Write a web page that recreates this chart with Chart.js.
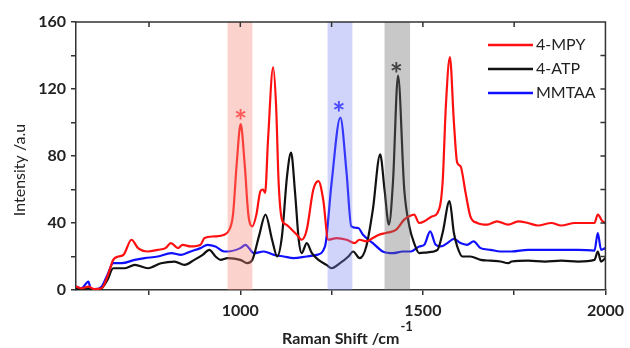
<!DOCTYPE html>
<html>
<head>
<meta charset="utf-8">
<script src="https://cdn.jsdelivr.net/npm/chart.js@4"></script>
<style>
  html, body { margin: 0; padding: 0; background: #fff; }
  #wrap { width: 630px; height: 348px; }
</style>
</head>
<body>
<div id="wrap"><canvas id="raman-chart"></canvas></div>
<script>
// Raman shift (cm-1) / intensity (a.u.)
const mpyShift = [550, 565, 584, 600, 620, 636, 652, 666, 680, 702, 720, 747, 774, 795, 810, 829, 842, 864, 891, 902, 929, 956, 970, 980, 990, 1001, 1012, 1022, 1033, 1044, 1055, 1062, 1068, 1076, 1090, 1098, 1105, 1114, 1126, 1141, 1155, 1168, 1182, 1200, 1214, 1227, 1241, 1264, 1291, 1313, 1326, 1345, 1363, 1380, 1399, 1427, 1449, 1463, 1476, 1490, 1504, 1526, 1540, 1554, 1563, 1574, 1585, 1594, 1603, 1617, 1630, 1649, 1676, 1703, 1734, 1761, 1788, 1815, 1852, 1879, 1916, 1943, 1970, 1979, 1992, 2000];
const mpyIntensity = [2, 1, 2, 0.5, 1, 8, 18, 20, 21, 30, 25, 23, 24, 25, 28, 25, 27, 26, 27, 31, 32, 33, 36, 45, 75, 99, 75, 45, 38, 45, 59, 60, 58, 90, 133, 110, 64, 42, 39, 36, 33, 30, 36, 60, 65, 54, 30, 31, 30, 28, 30, 29, 31, 33, 34, 36, 42, 44, 45, 40, 41, 44, 46, 64, 110, 139, 100, 76, 74, 58, 44, 40, 39, 41, 39, 41, 40, 38.5, 40, 38.5, 40, 40, 40, 45, 41, 40];

const atpShift = [550, 565, 584, 600, 620, 636, 652, 684, 711, 747, 783, 820, 847, 874, 897, 915, 932, 946, 965, 1000, 1019, 1033, 1051, 1069, 1087, 1101, 1114, 1128, 1139, 1150, 1160, 1168, 1182, 1196, 1214, 1236, 1250, 1273, 1296, 1309, 1327, 1345, 1363, 1383, 1395, 1407, 1418, 1432, 1449, 1463, 1476, 1490, 1513, 1540, 1554, 1573, 1585, 1594, 1608, 1630, 1658, 1685, 1712, 1734, 1743, 1788, 1834, 1879, 1925, 1970, 1979, 1988, 2000];
const atpIntensity = [1, 0.5, 1, 0, 1, 6, 13, 13, 15, 13, 16, 17, 15, 18, 21, 24, 20, 18, 19, 18, 16, 18, 32, 45, 30, 20, 32, 68, 82, 58, 30, 22, 28, 22, 18, 15, 13, 16, 20, 23, 19, 26, 48, 81, 60, 39, 64, 128, 60, 38, 28, 22, 22.5, 24, 34, 53, 34, 26, 20, 20, 18, 17.5, 17, 16, 17, 17.5, 17, 17.5, 17, 18, 23, 17, 19];

const mmtaaShift = [550, 565, 584, 590, 600, 620, 636, 652, 675, 711, 738, 774, 811, 838, 864, 891, 910, 932, 956, 965, 1000, 1014, 1037, 1064, 1092, 1119, 1146, 1182, 1209, 1232, 1250, 1274, 1291, 1304, 1323, 1336, 1363, 1390, 1418, 1445, 1467, 1490, 1504, 1520, 1535, 1549, 1567, 1585, 1603, 1621, 1639, 1658, 1685, 1712, 1743, 1788, 1834, 1879, 1925, 1970, 1979, 1988, 2000];
const mmtaaIntensity = [2, 1, 5, 1, 0.5, 2, 9, 16, 16, 18, 19, 20, 22, 21, 23, 25, 27, 26, 23, 23, 25, 27, 22, 23, 21, 20, 19, 20, 21, 26, 64, 103, 70, 38, 37, 33, 28, 23, 22, 23, 23, 26, 27, 35, 27, 26, 28, 30.5, 28, 27, 29, 25, 24, 23, 23, 24, 24, 24, 24, 23.5, 34, 24, 25];

const seriesLabels = ['4-MPY', '4-ATP', 'MMTAA'];
const seriesColors = ['#ff1010', '#111111', '#1010ff'];

// highlighted bands and the * markers above the peaks
const bandStart = [965, 1239, 1395];
const bandEnd = [1033, 1307, 1465];
const bandColors = ['rgba(245,140,120,0.38)', 'rgba(120,130,240,0.35)', 'rgba(110,110,110,0.38)'];
const starShift = [1001, 1270, 1427];
const starIntensity = [105, 110, 133];
const starColors = ['#ff5a5a', '#4a4aff', '#444444'];

const xTickValues = [750, 1000, 1250, 1500, 1750, 2000];
const yTitle = 'Intensity /a.u';

const FONT = 'Lato, "Open Sans", sans-serif';

function toPoints(xs, ys) {
    return xs.map((x, i) => ({ x: x, y: ys[i] }));
}

const decorPlugin = {
    id: 'decor',
    afterDatasetsDraw(chart) {
        const ctx = chart.ctx;
        const area = chart.chartArea;
        const xs = chart.scales.x, ys = chart.scales.y;
        ctx.save();
        // bands on top of the lines, semi transparent
        bandStart.forEach((s, i) => {
            const x0 = xs.getPixelForValue(s);
            const x1 = xs.getPixelForValue(bandEnd[i]);
            ctx.fillStyle = bandColors[i];
            ctx.fillRect(x0, area.top, x1 - x0, area.bottom - area.top);
        });
        // asterisks
        ctx.font = 'bold 31px ' + FONT;
        ctx.textAlign = 'center';
        ctx.textBaseline = 'middle';
        starShift.forEach((s, i) => {
            ctx.fillStyle = starColors[i];
            ctx.fillText('*', xs.getPixelForValue(s), ys.getPixelForValue(starIntensity[i]) + 8);
        });
        ctx.restore();
    },
    afterDraw(chart) {
        const ctx = chart.ctx;
        const area = chart.chartArea;
        const xs = chart.scales.x, ys = chart.scales.y;
        ctx.save();
        // top and right frame with inward ticks
        ctx.strokeStyle = '#333';
        ctx.lineWidth = 1.5;
        ctx.beginPath();
        ctx.moveTo(area.left, area.top);
        ctx.lineTo(area.right, area.top);
        ctx.lineTo(area.right, area.bottom);
        xTickValues.forEach(v => {
            const px = xs.getPixelForValue(v);
            ctx.moveTo(px, area.top);
            ctx.lineTo(px, area.top + 5);
        });
        for (let v = 20; v < 160; v += 20) {
            const py = ys.getPixelForValue(v);
            ctx.moveTo(area.right, py);
            ctx.lineTo(area.right - 5, py);
        }
        ctx.stroke();

        // legend
        ctx.font = '16px ' + FONT;
        ctx.textAlign = 'left';
        ctx.textBaseline = 'middle';
        const legendY = [45, 69, 93];
        seriesLabels.forEach((lab, i) => {
            ctx.strokeStyle = seriesColors[i];
            ctx.lineWidth = 2.5;
            ctx.beginPath();
            ctx.moveTo(488, legendY[i]);
            ctx.lineTo(533, legendY[i]);
            ctx.stroke();
            ctx.fillStyle = '#222';
            ctx.fillText(lab, 536, legendY[i]);
        });

        // y title, sits a bit below the middle of the axis like the original
        ctx.save();
        ctx.translate(20, 170);
        ctx.rotate(-Math.PI / 2);
        ctx.textAlign = 'center';
        ctx.textBaseline = 'middle';
        ctx.font = '16px ' + FONT;
        ctx.fillStyle = '#222';
        ctx.fillText(yTitle, 0, 0);
        ctx.restore();

        // superscript of the x title
        const t = xs.options.title;
        ctx.font = 'bold 16px ' + FONT;
        const w = ctx.measureText(t.text).width;
        const cx = (xs.left + xs.right) / 2;
        ctx.font = 'bold 13px ' + FONT;
        ctx.fillStyle = '#222';
        ctx.textAlign = 'left';
        ctx.textBaseline = 'middle';
        ctx.fillText('-1', cx + w / 2 + 1, 327);
        ctx.restore();
    }
};

const ctx = document.getElementById('raman-chart').getContext('2d');

const ramanChart = new Chart(ctx, {
    type: 'line',
    data: {
        datasets: [
            { label: seriesLabels[0], data: toPoints(mpyShift, mpyIntensity) },
            { label: seriesLabels[1], data: toPoints(atpShift, atpIntensity) },
            { label: seriesLabels[2], data: toPoints(mmtaaShift, mmtaaIntensity) }
        ].map((d, i) => Object.assign(d, {
            borderColor: seriesColors[i],
            borderWidth: 2.2,
            pointRadius: 0,
            fill: false,
            cubicInterpolationMode: 'monotone'
        }))
    },
    options: {
        responsive: true,
        maintainAspectRatio: false,
        animation: false,
        layout: { padding: { top: 22, right: 19, left: 0, bottom: 0 } },
        plugins: {
            legend: { display: false },
            tooltip: { enabled: false }
        },
        scales: {
            x: {
                type: 'linear',
                min: 550,
                max: 2000,
                afterBuildTicks(scale) {
                    scale.ticks = xTickValues.map(v => ({ value: v }));
                },
                afterFit(scale) { scale.height = 58; },
                ticks: {
                    autoSkip: false,
                    maxRotation: 0,
                    padding: 6,
                    color: '#222',
                    font: { family: FONT, size: 16, weight: 'bold' },
                    callback: v => (v % 500 === 0 ? v : '')
                },
                grid: { drawOnChartArea: false, drawTicks: true, tickLength: 5, color: '#333', lineWidth: 1.5 },
                border: { display: true, color: '#333', width: 1.5 },
                title: {
                    display: true,
                    text: 'Raman Shift /cm',
                    color: '#222',
                    font: { family: FONT, size: 16, weight: 'bold' },
                    padding: { top: 0, bottom: 0 }
                }
            },
            y: {
                min: 0,
                max: 160,
                afterFit(scale) { scale.width = 76; },
                ticks: {
                    stepSize: 20,
                    padding: 5,
                    color: '#222',
                    font: { family: FONT, size: 16, weight: 'bold' },
                    callback: v => (v % 40 === 0 ? v : '')
                },
                grid: { drawOnChartArea: false, drawTicks: true, tickLength: 5, color: '#333', lineWidth: 1.5 },
                border: { display: true, color: '#333', width: 1.5 },
                title: { display: false }
            }
        }
    },
    plugins: [decorPlugin]
});
</script>
</body>
</html>
